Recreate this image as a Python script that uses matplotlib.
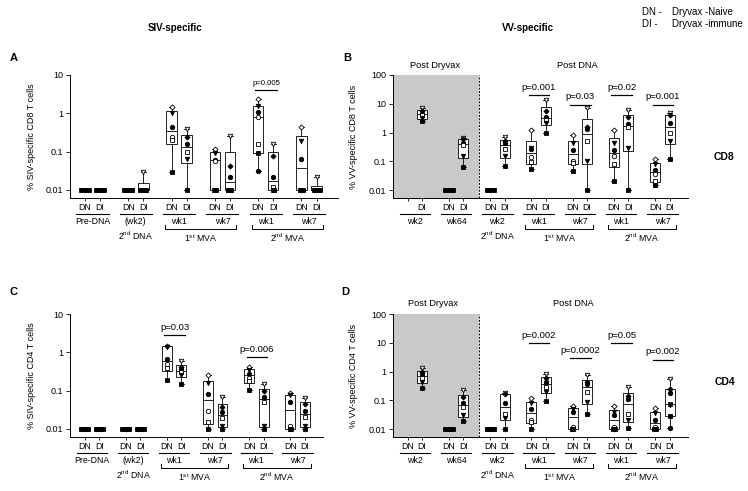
import numpy as np
import matplotlib
matplotlib.use("Agg")
import matplotlib.pyplot as plt
from matplotlib.transforms import blended_transform_factory

plt.rcParams['font.family'] = ['Liberation Sans', 'DejaVu Sans']
plt.rcParams['mathtext.default'] = 'regular'

# ---- data (percent of antigen-specific T cells, log scale) ----
# A: SIV-specific CD8
a_weeks = ['Pre-DNA', '(wk2)', 'wk1', 'wk7', 'wk1', 'wk7']
a_dn = [
    [0.01, 0.01, 0.01, 0.01, 0.01, 0.01],
    [0.01, 0.01, 0.01, 0.01, 0.01, 0.01],
    [1.46, 1.02, 0.44, 0.24, 0.2, 0.029],
    [0.12, 0.093, 0.06, 0.058, 0.01, 0.01],
    [2.4, 1.6, 1.08, 0.8, 0.16, 0.093, 0.031],
    [0.44, 0.19, 0.064, 0.01, 0.01, 0.01],
]
a_di = [
    [0.01, 0.01, 0.01, 0.01, 0.01, 0.01],
    [0.03, 0.01, 0.01, 0.01, 0.01, 0.01],
    [0.39, 0.24, 0.16, 0.098, 0.064, 0.01],
    [0.26, 0.042, 0.022, 0.01, 0.01, 0.01],
    [0.16, 0.075, 0.022, 0.012, 0.01, 0.01],
    [0.022, 0.01, 0.01, 0.01, 0.01, 0.01],
]
a_pvals = [(4, 'p=0.005', 4.0)]

# B: VV-specific CD8
b_weeks = ['wk2', 'wk64', 'wk2', 'wk1', 'wk7', 'wk1', 'wk7']
b_dn = [
    [],
    [0.01, 0.01, 0.01, 0.01, 0.01, 0.01],
    [0.01, 0.01, 0.01, 0.01, 0.01, 0.01],
    [1.26, 0.28, 0.26, 0.14, 0.093, 0.053],
    [0.85, 0.42, 0.25, 0.1, 0.09, 0.046],
    [1.2, 0.45, 0.25, 0.15, 0.08, 0.02],
    [0.12, 0.08, 0.05, 0.035, 0.02, 0.015],
]
b_di = [
    [7.0, 5.5, 4.5, 4.0, 3.2, 2.6],
    [0.67, 0.58, 0.45, 0.36, 0.15, 0.063],
    [0.7, 0.5, 0.45, 0.26, 0.15, 0.07],
    [14, 5.5, 3.6, 2.8, 2.2, 1.0],
    [7.3, 1.6, 1.3, 0.5, 0.1, 0.01],
    [6.2, 3.5, 2.0, 1.5, 0.3, 0.01],
    [4.9, 4.0, 2.2, 1.0, 0.5, 0.12],
]
b_pvals = [(3, 'p=0.001', 20), (4, 'p=0.03', 9.3), (5, 'p=0.02', 20), (6, 'p=0.001', 9.3)]

# C: SIV-specific CD4
c_weeks = ['Pre-DNA', '(wk2)', 'wk1', 'wk7', 'wk1', 'wk7']
c_dn = [
    [0.01, 0.01, 0.01, 0.01, 0.01, 0.01],
    [0.01, 0.01, 0.01, 0.01, 0.01, 0.01],
    [1.5, 1.4, 0.69, 0.51, 0.38, 0.195],
    [0.25, 0.16, 0.083, 0.03, 0.015, 0.01],
    [0.42, 0.35, 0.28, 0.22, 0.18, 0.105],
    [0.085, 0.075, 0.05, 0.012, 0.01, 0.01],
]
c_di = [
    [0.01, 0.01, 0.01, 0.01, 0.01, 0.01],
    [0.01, 0.01, 0.01, 0.01, 0.01, 0.01],
    [0.6, 0.42, 0.37, 0.3, 0.26, 0.15],
    [0.07, 0.038, 0.027, 0.019, 0.012, 0.01],
    [0.15, 0.1, 0.068, 0.05, 0.012, 0.01],
    [0.066, 0.045, 0.03, 0.02, 0.012, 0.01],
]
c_pvals = [(2, 'p=0.03', 2.8), (4, 'p=0.006', 0.74)]

# D: VV-specific CD4
d_weeks = ['wk2', 'wk64', 'wk2', 'wk1', 'wk7', 'wk1', 'wk7']
d_dn = [
    [],
    [0.01, 0.01, 0.01, 0.01, 0.01, 0.01],
    [0.01, 0.01, 0.01, 0.01, 0.01, 0.01],
    [0.12, 0.08, 0.05, 0.02, 0.018, 0.01],
    [0.064, 0.05, 0.04, 0.012, 0.01, 0.01],
    [0.064, 0.04, 0.03, 0.012, 0.01, 0.01],
    [0.055, 0.035, 0.02, 0.012, 0.01, 0.01],
]
d_di = [
    [1.3, 1.0, 0.8, 0.6, 0.45, 0.27],
    [0.23, 0.13, 0.08, 0.06, 0.03, 0.019],
    [0.18, 0.16, 0.08, 0.034, 0.025, 0.01],
    [0.8, 0.6, 0.45, 0.3, 0.2, 0.096],
    [0.73, 0.45, 0.38, 0.2, 0.088, 0.034],
    [0.28, 0.14, 0.11, 0.034, 0.02, 0.011],
    [0.57, 0.25, 0.18, 0.075, 0.07, 0.029, 0.011],
]
d_pvals = [(3, 'p=0.002', 9.6), (4, 'p=0.0002', 2.9), (5, 'p=0.05', 9.6), (6, 'p=0.002', 2.6)]

siv_stages = [(r'2$^{nd}$ DNA', 1, 1, False), (r'1$^{st}$ MVA', 2, 3, True), (r'2$^{nd}$ MVA', 4, 5, True)]
vv_stages = [(r'2$^{nd}$ DNA', 2, 2, False), (r'1$^{st}$ MVA', 3, 4, True), (r'2$^{nd}$ MVA', 5, 6, True)]

# per-animal symbols (marker, filled)
dn_marks = [('D', False), ('v', True), ('o', True), ('o', False), ('s', False), ('s', True), ('o', True)]
di_marks = [('v', False), ('D', True), ('o', True), ('s', False), ('v', True), ('s', True), ('o', True)]

W, H = 748, 491
fig = plt.figure(figsize=(W / 100, H / 100), dpi=100)


def fy(ypix):
    return 1 - ypix / H


def make_axes(left, top, right, bottom):
    return fig.add_axes([left / W, 1 - bottom / H, (right - left) / W, (bottom - top) / H])


def draw_group(ax, x, vals, marks):
    if len(vals) == 0:
        return
    v = np.array(vals, dtype=float)
    q1, med, q3 = np.percentile(v, [25, 50, 75], method='weibull')
    st = dict(med=med, q1=q1, q3=q3, whislo=v.min(), whishi=v.max(), fliers=[])
    ax.bxp([st], positions=[x], widths=0.24, capwidths=0.12, patch_artist=True,
           showfliers=False,
           boxprops=dict(facecolor='white', edgecolor='black', linewidth=0.6),
           medianprops=dict(color='black', linewidth=0.6),
           whiskerprops=dict(color='black', linewidth=0.6),
           capprops=dict(color='black', linewidth=0.6), zorder=2, manage_ticks=False)
    # spread identical values sideways
    offs = np.zeros(len(v))
    for u in np.unique(v):
        idx = np.where(v == u)[0]
        if len(idx) > 1:
            offs[idx] = (np.arange(len(idx)) - (len(idx) - 1) / 2) * 0.035
    for i, val in enumerate(v):
        m, filled = marks[i % len(marks)]
        if val <= 0.01:
            m, filled = 's', True
        ax.plot(x + offs[i], val, marker=m, ms=3.2 if m != 'D' else 2.6, mew=0.6,
                mec='black', mfc='black' if filled else 'white', ls='none', zorder=3)


def draw_panel(ax, weeks, dn, di, stages, pvals, xlim, ylim, yticks, ylabel,
               label_x, pfs, hide_first_dn=False):
    n = len(weeks)
    off = 0.175
    ax.set_yscale('log')
    for i in range(n):
        draw_group(ax, i - off, dn[i], dn_marks)
        draw_group(ax, i + off, di[i], di_marks)
    ax.set_xlim(*xlim)
    ax.set_ylim(*ylim)
    ax.set_yticks(yticks)
    ax.set_yticklabels([('%g' % t) for t in yticks], fontsize=6.5)
    ax.yaxis.set_minor_locator(matplotlib.ticker.NullLocator())
    xt, xl = [], []
    for i in range(n):
        xt += [i - off, i + off]
        xl += ['' if (hide_first_dn and i == 0) else 'DN', 'DI']
    ax.set_xticks(xt)
    ax.set_xticklabels(xl, fontsize=6.3)
    ax.tick_params(axis='x', length=2, width=0.6, pad=1.5)
    ax.tick_params(axis='y', length=3, width=0.6, pad=2)
    for s in ['top', 'right']:
        ax.spines[s].set_visible(False)
    for s in ['left', 'bottom']:
        ax.spines[s].set_linewidth(0.7)
    ax.set_ylabel(ylabel, fontsize=6.5)
    ax.yaxis.set_label_coords(label_x, 0.5)

    # labels below the axis
    bot = (1 - ax.get_position().y0) * H
    tr = blended_transform_factory(ax.transData, fig.transFigure)
    for i, wk in enumerate(weeks):
        ax.plot([i - 0.37, i + 0.37], [fy(bot + 16)] * 2, color='black', lw=0.8,
                transform=tr, clip_on=False)
        ax.text(i, fy(bot + 23.5), wk, ha='center', va='center', fontsize=6.3, transform=tr)
    for lab, g0, g1, bracket in stages:
        if bracket:
            x0, x1 = g0 - 0.32, g1 + 0.32
            ax.plot([x0, x0, x1, x1], [fy(bot + 27), fy(bot + 31), fy(bot + 31), fy(bot + 27)],
                    color='black', lw=0.7, transform=tr, clip_on=False)
            ax.text((g0 + g1) / 2, fy(bot + 40), lab, ha='center', va='center', fontsize=6.3,
                    transform=tr)
        else:
            ax.text(g0, fy(bot + 38), lab, ha='center', va='center', fontsize=6.3, transform=tr)

    # p-values
    for g, txt, yv in pvals:
        ax.plot([g - 0.24, g + 0.26], [yv, yv], color='black', lw=0.9, zorder=4)
        ax.annotate(txt, xy=(g + 0.01, yv), xytext=(0, 2.5), textcoords='offset points',
                    ha='center', va='bottom', fontsize=pfs)


siv_ylim = (0.00618, 10)
vv_ylim = (0.0053, 100)
siv_ticks = [0.01, 0.1, 1, 10]
vv_ticks = [0.01, 0.1, 1, 10, 100]

axA = make_axes(70, 75, 338, 198)
draw_panel(axA, a_weeks, a_dn, a_di, siv_stages, a_pvals, (-0.52, 5.67), siv_ylim, siv_ticks,
           '% SIV-specific CD8 T cells', -34 / 268, 5.6)

axC = make_axes(70, 314, 323, 437)
draw_panel(axC, c_weeks, c_dn, c_di, siv_stages, c_pvals, (-0.535, 5.62), siv_ylim, siv_ticks,
           '% SIV-specific CD4 T cells', -34 / 253, 6.8)

axB = make_axes(393, 75, 688, 198)
axD = make_axes(393, 314, 688, 437)
for ax, weeks, dn, di, pv, yl, hide in [
        (axB, b_weeks, b_dn, b_di, b_pvals, '% VV-specific CD8 T cells', True),
        (axD, d_weeks, d_dn, d_di, d_pvals, '% VV-specific CD4 T cells', False)]:
    ax.axvspan(-0.53, 1.55, color='#c9c9c9', lw=0, zorder=0)
    ax.axvline(1.55, color='black', lw=0.7, ls=(0, (2, 1.5)), zorder=1)
    draw_panel(ax, weeks, dn, di, vv_stages, pv, (-0.53, 6.62),
               vv_ylim, vv_ticks, yl, -35 / 295, 6.8, hide_first_dn=hide)


# ---- figure annotations ----
def ftext(x, y, s, **kw):
    fig.text(x / W, fy(y), s, **kw)


ftext(175, 28, 'SIV-specific', ha='center', va='center', fontsize=7, fontweight='bold')
ftext(528, 28, 'VV-specific', ha='center', va='center', fontsize=7, fontweight='bold')
ftext(10, 58, 'A', ha='left', va='center', fontsize=8, fontweight='bold')
ftext(343, 58, 'B', ha='left', va='center', fontsize=8, fontweight='bold')
ftext(10, 292, 'C', ha='left', va='center', fontsize=8, fontweight='bold')
ftext(341, 292, 'D', ha='left', va='center', fontsize=8, fontweight='bold')
ftext(642, 12, 'DN -', ha='left', va='center', fontsize=7)
ftext(672, 12, 'Dryvax -Naive', ha='left', va='center', fontsize=7)
ftext(642, 24, 'DI -', ha='left', va='center', fontsize=7)
ftext(672, 24, 'Dryvax -immune', ha='left', va='center', fontsize=7)
ftext(724, 157, 'CD8', ha='center', va='center', fontsize=7.5, fontweight='bold')
ftext(725, 382, 'CD4', ha='center', va='center', fontsize=7.5, fontweight='bold')
ftext(435, 65, 'Post Dryvax', ha='center', va='center', fontsize=6.7)
ftext(577, 65, 'Post DNA', ha='center', va='center', fontsize=6.7)
ftext(433, 303, 'Post Dryvax', ha='center', va='center', fontsize=6.7)
ftext(573, 303, 'Post DNA', ha='center', va='center', fontsize=6.7)

fig.savefig('out.png', dpi=100)
